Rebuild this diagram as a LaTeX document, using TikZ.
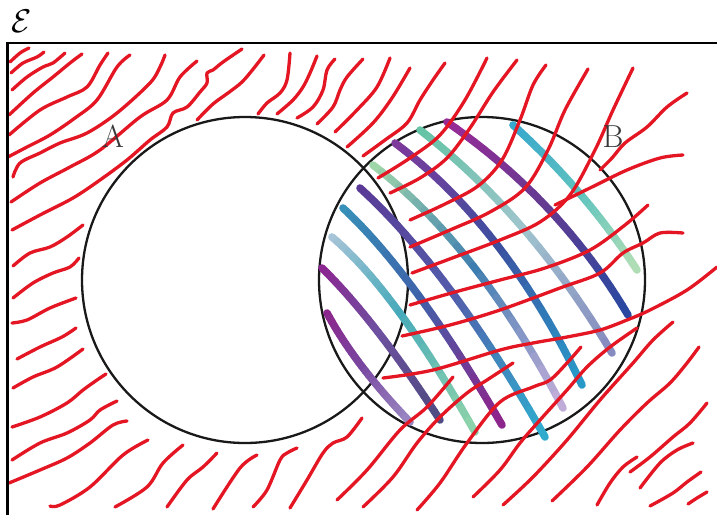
\documentclass[tikz,border=0pt]{standalone}
\usepackage{tikz}
\definecolor{rl}{RGB}{228,22,35}
\definecolor{sa1}{RGB}{55,168,205}\definecolor{sb1}{RGB}{95,195,190}\definecolor{sc1}{RGB}{175,222,182}
\definecolor{sa2}{RGB}{152,42,150}\definecolor{sb2}{RGB}{95,60,145}\definecolor{sc2}{RGB}{42,72,160}
\definecolor{sa3}{RGB}{100,196,165}\definecolor{sb3}{RGB}{160,196,206}\definecolor{sc3}{RGB}{135,140,192}
\definecolor{sa4}{RGB}{125,58,155}\definecolor{sb4}{RGB}{60,80,160}\definecolor{sc4}{RGB}{40,152,200}
\definecolor{sa5}{RGB}{160,215,170}\definecolor{sb5}{RGB}{62,125,176}\definecolor{sc5}{RGB}{192,172,216}
\definecolor{sa6}{RGB}{90,58,150}\definecolor{sb6}{RGB}{82,92,170}\definecolor{sc6}{RGB}{48,170,205}
\definecolor{sa7}{RGB}{55,145,185}\definecolor{sb7}{RGB}{62,98,170}\definecolor{sc7}{RGB}{140,38,140}
\definecolor{sa8}{RGB}{168,196,216}\definecolor{sb8}{RGB}{70,170,186}\definecolor{sc8}{RGB}{140,210,170}
\definecolor{sa9}{RGB}{140,38,145}\definecolor{sb9}{RGB}{110,80,160}\definecolor{sc9}{RGB}{80,75,130}
\definecolor{sa10}{RGB}{140,38,140}\definecolor{sb10}{RGB}{120,70,160}\definecolor{sc10}{RGB}{152,132,192}
\tikzset{
  redl/.style={draw=rl, line width=3.3, line cap=round, line join=round},
  glit/.style={line width=7.6, line cap=round},
  circ/.style={draw=black!90, line width=2.3},
  lbl/.style={font=\Huge, scale=1.28, text=black!78, inner sep=0pt},
}
\newcommand\gstroke[9]{%
  \foreach \gi in {0,...,23}{%
    \pgfmathsetmacro\gta{\gi/24}%
    \pgfmathsetmacro\gtb{(\gi+1)/24}%
    \pgfmathsetmacro\gxa{(1-\gta)*(1-\gta)*#1+2*\gta*(1-\gta)*#3+\gta*\gta*#5}%
    \pgfmathsetmacro\gya{(1-\gta)*(1-\gta)*#2+2*\gta*(1-\gta)*#4+\gta*\gta*#6}%
    \pgfmathsetmacro\gxb{(1-\gtb)*(1-\gtb)*#1+2*\gtb*(1-\gtb)*#3+\gtb*\gtb*#5}%
    \pgfmathsetmacro\gyb{(1-\gtb)*(1-\gtb)*#2+2*\gtb*(1-\gtb)*#4+\gtb*\gtb*#6}%
    \ifnum\gi<12
      \pgfmathtruncatemacro\gp{100-\gi*100/12}%
      \colorlet{gcol}{#7!\gp!#8}%
    \else
      \pgfmathtruncatemacro\gp{100-(\gi-12)*100/11}%
      \colorlet{gcol}{#8!\gp!#9}%
    \fi
    \draw[glit, draw=gcol] (\gxa,\gya) -- (\gxb,\gyb);
  }}
\newcommand\rline[1]{\draw[redl] plot[smooth, tension=0.55] coordinates {#1};}
\begin{document}
\begin{tikzpicture}[x=1pt, y=-1pt]
\useasboundingbox (0,0) rectangle (717,515);
\fill[white] (0,0) rectangle (717,515);
% frame
\draw[line width=2.8] (7.5,515) -- (7.5,43) -- (717,43);
% circles
\draw[circ] (245,280) circle[radius=163];
\draw[circ] (482,280) circle[radius=163];
% coloured strokes in B
\gstroke{513}{125}{585}{190}{637}{270}{sa1}{sb1}{sc1}
\gstroke{447}{122}{560}{200}{628}{315}{sa2}{sb2}{sc2}
\gstroke{420}{130}{530}{215}{612}{353}{sa3}{sb3}{sc3}
\gstroke{395}{143}{505}{225}{582}{385}{sa4}{sb4}{sc4}
\gstroke{373}{165}{478}{245}{563}{408}{sa5}{sb5}{sc5}
\gstroke{360}{188}{450}{270}{545}{437}{sa6}{sb6}{sc6}
\gstroke{343}{208}{415}{275}{502}{425}{sa7}{sb7}{sc7}
\gstroke{332}{237}{395}{290}{475}{432}{sa8}{sb8}{sc8}
\gstroke{322}{268}{375}{320}{440}{420}{sa9}{sb9}{sc9}
\gstroke{327}{313}{355}{365}{410}{422}{sa10}{sb10}{sc10}
% red hatching: everything outside A
\begin{scope}
\clip (9,44.5) -- (717,44.5) -- (717,515) -- (9,515) -- (9,280) -- (80,280)
  arc[start angle=180, delta angle=-360, radius=165] -- (9,280) -- cycle;
% upper left
\rline{(10,62) (20,53) (29,48)}
\rline{(11,73) (23,63) (37,57) (44,52)}
\rline{(12,90) (27,77) (43,67) (53,63) (65,53)}
\rline{(9,115) (33,93) (53,77) (70,63) (82,54)}
\rline{(9,135) (40,110) (67,97) (87,87) (100,65) (108,53)}
\rline{(8,157) (27,147) (50,135) (75,118) (97,100) (117,67) (130,55)}
\rline{(13,177) (20,163) (40,153) (60,143) (87,133) (117,113) (150,83) (160,67) (165,55)}
\rline{(11,202) (40,183) (70,167) (100,150) (140,117) (167,100) (180,77) (197,61)}
\rline{(12,230) (40,215) (73,198) (100,180) (127,160) (150,140) (167,127) (173,113) (187,107) (200,92) (207,83) (207,73) (213,70) (223,62) (242,49)}
% top
\rline{(197,120) (213,104) (228,93) (242,82) (254,68) (264,55)}
\rline{(258,114) (267,103) (280,93) (287,80) (290,53)}
\rline{(277,114) (293,100) (303,87) (310,73) (317,56)}
\rline{(297,118) (313,107) (323,90) (327,70) (335,59)}
\rline{(317,124) (333,107) (340,90) (347,77) (363,59)}
\rline{(335,132) (357,110) (377,87) (390,58)}
\rline{(347,147) (373,123) (392,98) (410,68)}
\rline{(363,156) (385,140) (407,123) (420,100) (433,80) (445,63)}
\rline{(378,178) (410,158) (440,135) (465,100) (487,58)}
\rline{(390,193) (420,178) (447,158) (470,128) (493,92) (517,60)}
\rline{(410,220) (445,204) (478,186) (502,160) (520,120) (533,85) (546,65)}
\rline{(410,247) (450,230) (490,212) (525,188) (548,150) (565,110) (588,69)}
\rline{(412,273) (455,257) (500,240) (540,222) (570,195) (595,150) (613,110) (633,68)}
\rline{(410,305) (455,292) (500,280) (545,268) (590,250) (625,225) (648,205)}
\rline{(600,170) (612,158) (625,143) (647,127) (667,107) (687,93)}
\rline{(555,205) (590,188) (627,170) (660,158) (683,155)}
\rline{(402,336) (450,325) (500,310) (560,288) (600,273) (623,253) (643,243) (660,233) (683,233)}
\rline{(383,378) (433,370) (500,350) (533,343) (567,337) (600,330) (627,320) (650,310) (687,290) (717,267)}
% left
\rline{(13,266) (30,253) (50,247) (67,237) (83,225)}
\rline{(13,298) (33,283) (53,273) (70,267) (79,258)}
\rline{(12,323) (27,320) (50,308) (76,298)}
\rline{(17,359) (40,347) (62,337) (76,328)}
\rline{(13,388) (33,377) (57,367) (83,349)}
\rline{(12,427) (40,417) (67,403) (83,390) (97,380) (106,374)}
\rline{(12,460) (40,443) (67,433) (90,420) (100,410) (117,401)}
\rline{(9,483) (40,470) (67,458) (90,443) (113,425) (127,421)}
% bottom
\rline{(50,506) (60,505) (90,487) (123,455) (148,440)}
\rline{(115,507) (147,487) (163,463) (183,445)}
\rline{(167,507) (187,480) (203,467) (217,453)}
\rline{(213,509) (240,468) (257,455)}
\rline{(253,507) (267,490) (280,460) (287,453) (297,448)}
\rline{(290,508) (307,480) (323,453) (333,443) (347,437) (362,418)}
\rline{(337,500) (367,470) (400,430) (427,407) (453,377)}
\rline{(363,507) (393,477) (417,443) (440,417) (467,393) (487,380) (513,363)}
\rline{(417,510) (440,483) (467,443) (500,402) (533,387) (550,380) (567,363) (581,347)}
\rline{(473,497) (500,470) (520,443) (540,420) (567,390) (587,367) (610,347) (637,328)}
\rline{(503,505) (533,477) (567,440) (600,400) (633,363) (653,340) (673,322)}
\rline{(552,501) (587,467) (620,430) (647,403) (670,383) (687,363) (699,347)}
\rline{(597,505) (610,483) (623,467) (637,457)}
\rline{(630,472) (650,457) (673,437) (690,423) (707,403)}
\rline{(640,488) (660,463) (677,450) (693,443)}
\rline{(650,506) (673,493) (687,482) (701,472)}
\rline{(688,504) (697,498) (707,492)}
\end{scope}
% labels
\node[lbl] (la) at (113,136) {A};
\node[lbl] (lb) at (613,137) {B};
\node[font=\Huge, scale=1.32, inner sep=0pt] (le) at (22,21) {$\mathcal{E}$};
\end{tikzpicture}
\end{document}
